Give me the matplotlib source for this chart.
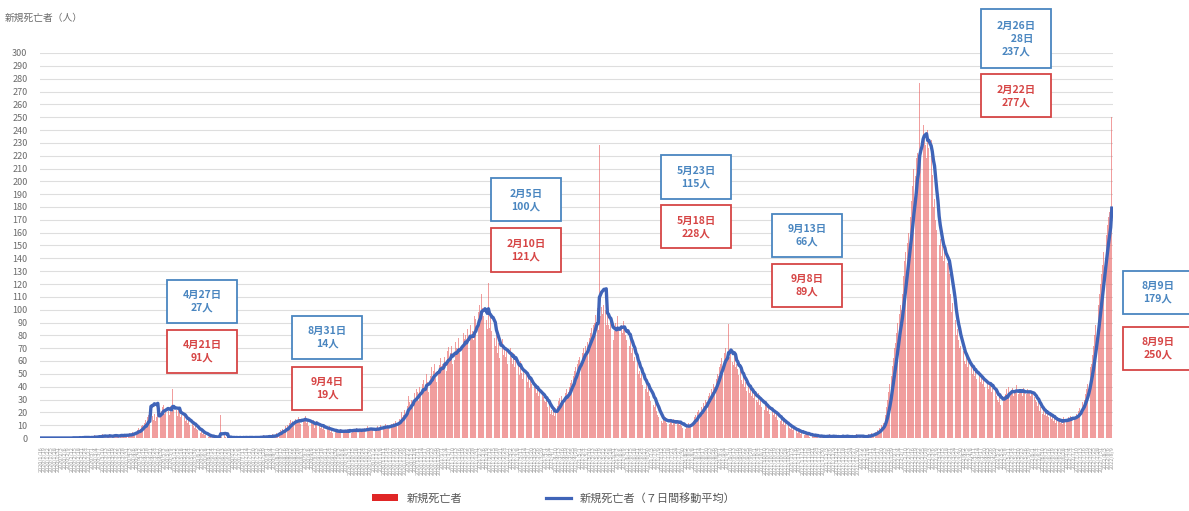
import matplotlib
matplotlib.use("Agg")
import matplotlib.pyplot as plt
from matplotlib.patches import Rectangle, Patch
from matplotlib.lines import Line2D
import numpy as np
import pandas as pd

plt.rcParams['font.family'] = ['Noto Sans CJK JP', 'DejaVu Sans']

# 新規死亡者（日別） 2020/1/16 - 2022/8/9
deaths_2020 = [
    0,0,0,0,0,0,0,0,0,0,0,0,0,0,0,0,                       # 1/16-1/31
    0,0,0,0,0,0,0,0,0,0,0,0,1,0,0,0,0,0,1,0,1,0,1,0,0,1,0,0,1,   # 2月
    1,0,2,1,0,1,2,1,1,3,2,1,0,2,1,3,2,1,1,2,3,1,2,1,2,3,2,2,3,1,2,  # 3月
    2,4,3,2,5,3,4,5,6,8,4,7,9,10,12,14,9,16,18,12,91,17,14,19,13,16,19,23,17,21,  # 4月
    24,26,19,22,28,21,18,25,20,38,22,19,22,17,24,21,16,18,15,19,13,14,12,15,10,13,11,9,8,10,7,  # 5月
    6,5,4,7,3,4,2,2,3,1,2,1,0,2,1,0,1,0,2,1,18,1,0,2,1,0,1,0,1,0,  # 6月
    0,1,0,0,1,0,0,1,0,0,1,0,1,0,0,1,0,1,0,0,1,0,1,0,1,1,0,2,1,0,1,  # 7月
    1,2,1,0,3,2,1,2,4,3,5,6,4,7,6,5,9,10,8,12,14,11,13,12,15,12,14,16,13,11,16,  # 8月
    15,14,17,12,13,9,14,12,11,14,8,10,13,9,10,8,11,7,9,6,8,7,6,9,5,7,4,6,5,6,  # 9月
    4,6,5,7,3,6,5,6,4,7,5,8,4,6,7,5,6,8,4,7,6,5,7,6,8,5,9,6,7,8,6,  # 10月
    7,5,8,6,9,7,8,10,6,9,8,11,7,10,9,8,11,10,12,9,13,11,10,15,14,20,16,18,22,17,  # 11月
    25,33,28,22,30,27,35,31,38,36,29,40,33,42,45,39,38,50,44,36,48,55,46,52,58,49,44,53,57,62,56,  # 12月
]
deaths_2021 = [
    58,55,63,52,68,71,60,66,72,58,61,75,70,67,78,70,65,71,82,77,80,74,85,69,88,79,83,76,95,93,90,  # 1月
    98,104,96,112,101,95,99,92,85,121,86,94,83,97,78,72,80,66,74,62,74,77,65,72,63,69,58,66,  # 2月
    70,62,58,66,55,61,52,57,49,60,51,46,54,48,50,44,47,39,45,42,36,41,38,35,40,33,37,30,34,32,29,  # 3月
    28,30,24,26,19,22,18,21,17,23,25,29,31,27,33,30,28,35,38,32,36,40,43,45,48,52,55,49,58,61,  # 4月
    63,58,66,70,65,72,68,75,78,82,86,80,88,90,96,101,84,228,95,102,97,104,100,88,96,88,85,92,80,76,83,  # 5月
    90,84,95,86,79,88,82,91,85,80,76,83,72,78,66,70,60,63,55,61,50,52,47,50,41,45,38,42,36,40,  # 6月
    33,29,35,26,24,28,21,18,16,17,13,12,14,13,16,12,15,11,14,13,10,15,12,11,14,13,10,12,9,8,11,  # 7月
    7,10,8,12,9,11,14,13,16,18,15,20,22,19,24,21,27,25,30,28,33,35,31,38,36,42,40,46,50,48,55,  # 8月
    58,62,55,66,70,60,64,89,63,68,59,57,65,55,58,54,49,56,45,42,48,40,44,37,41,35,38,33,36,31,  # 9月
    34,30,28,35,26,31,24,29,22,27,25,21,23,19,24,20,18,22,16,19,14,17,13,15,11,14,10,12,9,11,8,  # 10月
    7,9,6,8,5,7,4,6,5,3,4,6,2,4,3,2,4,1,3,2,1,2,3,1,2,0,1,2,1,2,  # 11月
    1,0,2,1,3,0,1,2,1,0,2,1,1,0,2,1,3,0,1,2,1,0,1,2,1,0,2,1,3,1,2,  # 12月
]
deaths_2022 = [
    1,0,2,1,0,2,1,3,2,1,4,2,3,5,4,6,5,8,7,10,12,12,18,24,30,36,42,48,56,62,70,  # 1月
    74,82,90,97,104,100,112,126,138,145,152,160,150,172,185,196,210,204,218,222,212,277,225,232,244,236,228,218,  # 2月
    240,226,215,232,205,180,186,170,162,158,150,155,142,150,138,145,130,136,140,128,112,98,105,88,92,80,85,76,70,72,65,  # 3月
    68,60,58,63,55,59,52,57,50,54,48,53,46,51,49,44,47,42,45,40,46,43,38,44,41,36,39,34,37,33,  # 4月
    30,28,35,26,31,29,33,34,38,32,40,36,35,39,33,37,36,41,34,38,35,37,33,39,36,34,38,35,37,33,36,  # 5月
    34,32,30,28,25,27,21,24,19,22,18,20,17,21,16,19,15,17,13,16,12,14,13,15,12,14,11,16,13,15,  # 6月
    14,16,13,17,15,18,14,16,19,17,21,23,25,28,26,30,34,38,42,48,55,58,65,72,80,88,95,104,112,120,128,  # 7月
    135,145,152,158,166,172,176,180,250,  # 8月
]

daily = pd.Series(deaths_2020 + deaths_2021 + deaths_2022, dtype=float)
dates = pd.date_range("2020-01-16", periods=len(daily), freq="D")
avg7 = daily.rolling(7, min_periods=1).mean()
x = np.arange(len(daily))

# 注記ボックス（7日間平均 / 日別最大）
avg_notes = ["4月27日\n27人", "8月31日\n14人", "2月5日\n100人", "5月23日\n115人",
             "9月13日\n66人", "2月26日\n　 28日\n237人", "8月9日\n179人"]
daily_notes = ["4月21日\n91人", "9月4日\n19人", "2月10日\n121人", "5月18日\n228人",
               "9月8日\n89人", "2月22日\n277人", "8月9日\n250人"]

W, H = 1189, 511
fig = plt.figure(figsize=(W / 100, H / 100), dpi=100)
ax = fig.add_axes([40 / W, 1 - 438 / H, (1113 - 40) / W, (438 - 53) / H])

ax.bar(x, daily, width=0.8, color="#e95e5e", alpha=0.6, linewidth=0, zorder=2)
ax.plot(x, avg7, color="#3f64b8", linewidth=2.4, zorder=3)

ax.set_xlim(-1, len(daily))
ax.set_ylim(0, 300)
ax.set_yticks(range(0, 301, 10))
ax.yaxis.grid(True, color="#dedede", linewidth=0.8, zorder=0)
ax.set_axisbelow(True)
for s in ax.spines.values():
    s.set_visible(False)
ax.tick_params(axis="y", length=0, pad=9, labelsize=6.5, labelcolor="#6b6b6b")

tick_idx = x[::3]
ax.set_xticks(tick_idx)
ax.set_xticklabels([f"{d.year}/{d.month}/{d.day}" for d in dates[tick_idx]],
                   rotation=90, fontsize=4, color="#9a9a9a")
ax.tick_params(axis="x", length=0, pad=6)

fig.text(5 / W, 1 - 18 / H, "新規死亡者（人）", fontsize=7, color="#6b6b6b", va="center")


def note_box(cx, cy, text, color, w=70, h=43):
    fig.add_artist(Rectangle(((cx - w / 2) / W, 1 - (cy + h / 2) / H), w / W, h / H,
                             transform=fig.transFigure, fill=True, facecolor="white",
                             edgecolor=color, linewidth=1.3, clip_on=False))
    fig.text(cx / W, 1 - cy / H, text, ha="center", va="center", color=color,
             fontsize=7.5, fontweight="bold", linespacing=1.35)


blue_pos = [(202, 301), (327, 337), (526, 200), (696, 177), (807, 235), (1016, 39), (1158, 292)]
red_pos = [(202, 351), (327, 388), (526, 250), (696, 227), (807, 285), (1016, 96), (1158, 348)]
for (cx, cy), t in zip(blue_pos, avg_notes):
    hh = 59 if t.count("\n") == 2 else 43
    note_box(cx, cy, t, "#4a86c0", h=hh)
for (cx, cy), t in zip(red_pos, daily_notes):
    note_box(cx, cy, t, "#d64545")

handles = [Patch(facecolor="#e02626"), Line2D([0], [0], color="#3f64b8", linewidth=2.3)]
fig.legend(handles, ["新規死亡者", "新規死亡者（７日間移動平均）"], loc="center",
           bbox_to_anchor=(0.466, 1 - 498 / H), ncol=2, frameon=False, fontsize=8,
           handlelength=2.3, handleheight=0.6, columnspacing=7.5, labelcolor="#555555")

fig.savefig("out.png", dpi=100)
